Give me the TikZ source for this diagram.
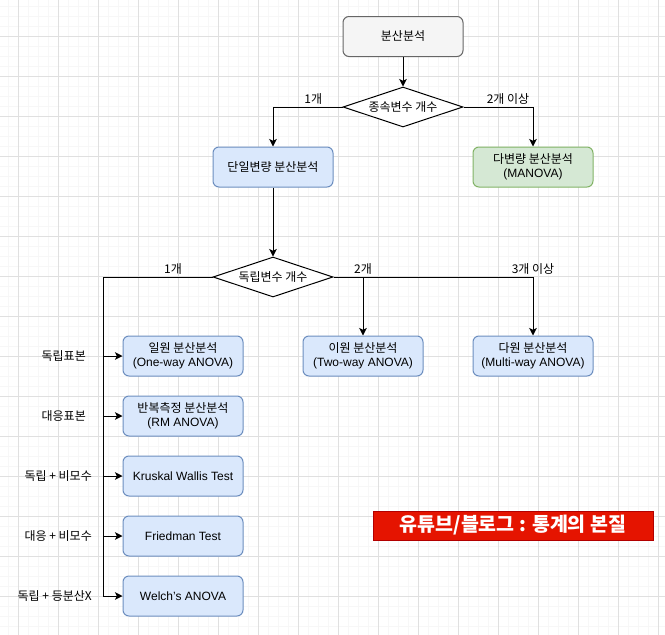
\documentclass[tikz,border=0pt]{standalone}
\usepackage{fontspec}
\setmainfont{Liberation Sans}
\newfontfamily\kr{Noto Sans CJK KR}
\usetikzlibrary{arrows.meta,positioning,shapes.geometric}
\definecolor{GridMajor}{HTML}{E0E0E0}
\definecolor{GridMinor}{HTML}{F7F7F7}
\definecolor{GrayFill}{HTML}{F5F5F5}
\definecolor{GrayLine}{HTML}{666666}
\definecolor{BlueFill}{HTML}{DAE8FC}
\definecolor{BlueLine}{HTML}{6C8EBF}
\definecolor{GreenFill}{HTML}{D5E8D4}
\definecolor{GreenLine}{HTML}{82B366}
\definecolor{RedFill}{HTML}{E51400}
\definecolor{RedLine}{HTML}{B20000}

\tikzset{
  box/.style={draw, line width=1pt, rounded corners=6pt, minimum width=120pt,
    minimum height=40pt, inner sep=0pt, align=center,
    font=\fontsize{12}{14}\selectfont},
  graybox/.style={box, fill=GrayFill, draw=GrayLine},
  bluebox/.style={box, fill=BlueFill, draw=BlueLine},
  greenbox/.style={box, fill=GreenFill, draw=GreenLine},
  redbox/.style={draw=RedLine, fill=RedFill, line width=1pt, minimum width=280pt,
    minimum height=29pt, inner sep=0pt, text=white,
    font=\kr\bfseries\fontsize{19.5}{22}\selectfont},
  decide/.style={diamond, draw, fill=white, line width=1pt, aspect=3,
    minimum width=120pt, minimum height=40pt, inner sep=0pt,
    font=\kr\fontsize{12}{14}\selectfont},
  wire/.style={line width=1pt},
  flow/.style={wire, -{Stealth[length=7.5pt,width=7.5pt,inset=1.8pt]}},
  lbl/.style={font=\kr\fontsize{12}{14}\selectfont, inner sep=2pt},
  sidelbl/.style={font=\kr\fontsize{12}{14}\selectfont, inner sep=0pt, anchor=east},
}

\begin{document}
\begin{tikzpicture}[x=1pt,y=-1pt]
  \useasboundingbox (0,0) rectangle (665,635);
  \fill[white] (0,0) rectangle (665,635);
  % grid
  \foreach \gx in {8,18,...,658} \draw[GridMinor] (\gx,0) -- (\gx,635);
  \foreach \gy in {6,16,...,626} \draw[GridMinor] (0,\gy) -- (665,\gy);
  \foreach \gx in {18,58,...,658} \draw[GridMajor] (\gx,0) -- (\gx,635);
  \foreach \gy in {36,76,...,596} \draw[GridMajor] (0,\gy) -- (665,\gy);

  % boxes
  \node[graybox] (anova) at (403,36.5) {\kr 분산분석};
  \node[decide] (dvnum) at (403,107) {종속변수 개수};
  \node[bluebox] (univ) at (273,167) {\kr 단일변량 분산분석};
  \node[greenbox] (manova) at (533,167) {{\kr 다변량 분산분석}\\(MANOVA)};
  \node[decide] (ivnum) at (273,277) {독립변수 개수};

  \node[bluebox] (oneway) at (183,356) {{\kr 일원 분산분석}\\(One-way ANOVA)};
  \node[bluebox] (rm) at (183,416) {{\kr 반복측정 분산분석}\\(RM ANOVA)};
  \node[bluebox] (kw) at (183,476) {Kruskal Wallis Test};
  \node[bluebox] (fried) at (183,536) {Friedman Test};
  \node[bluebox] (welch) at (183,596) {Welch's ANOVA};
  \node[bluebox] (twoway) at (363,356) {{\kr 이원 분산분석}\\(Two-way ANOVA)};
  \node[bluebox] (multiway) at (533,356) {{\kr 다원 분산분석}\\(Multi-way ANOVA)};

  \node[redbox] (blog) at (513,525.5) {유튜브/블로그 : 통계의 본질};

  % connectors
  \coordinate (trunk) at (103,277);
  \draw[flow] (anova) -- (dvnum);
  \draw[flow] (dvnum.west) -| node[lbl, pos=0.21, above] (dvone) {1개} (univ.north);
  \draw[flow] (dvnum.east) -| node[lbl, pos=0.32, above] (dvtwo) {2개 이상} (manova.north);
  \draw[flow] (univ) -- (ivnum);
  \draw[wire] (ivnum.west) -- node[lbl, pos=0.36, above] (ivone) {1개} (trunk) -- (trunk |- welch.west);
  \draw[flow] (ivnum.east) -| node[lbl, pos=0.5, above] (ivtwo) {2개} (twoway.north);
  \draw[flow] (ivnum.east) -| node[lbl, pos=0.5, above] (ivthree) {3개 이상} (multiway.north);
  \foreach \b/\t/\gap in {oneway/독립표본/17pt, rm/대응표본/17pt, kw/독립 + 비모수/11pt,
      fried/대응 + 비모수/11pt, welch/독립 + 등분산X/11pt} {
    \draw[flow] (trunk |- \b.west) -- (\b.west);
    \path (trunk |- \b.west) node[sidelbl, xshift=-\gap] (side-\b) {\t};
  }
\end{tikzpicture}
\end{document}
